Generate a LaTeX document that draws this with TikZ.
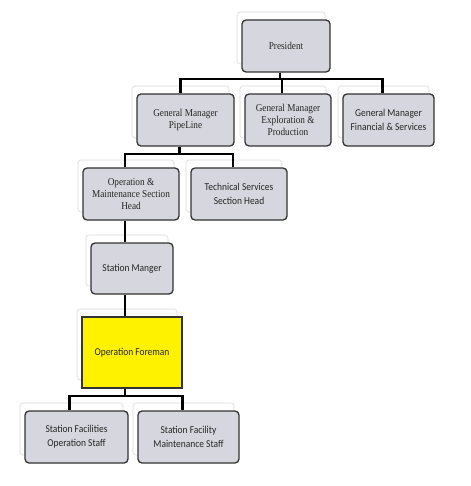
\documentclass[tikz,border=0pt]{standalone}
\usepackage{fontspec}
\setmainfont{Liberation Serif}
\newfontfamily\serc[FakeStretch=0.88]{Liberation Serif}
\newfontfamily\carl[FakeStretch=0.9]{Carlito}
\begin{document}
\begin{tikzpicture}[x=1pt,y=-1pt,
  box/.style={draw=black!80, line width=1.3pt, rounded corners=4pt, fill={rgb,255:red,214;green,214;blue,222}, align=center, inner sep=1pt, minimum height=52pt, text=black!85},
  ghost/.style={draw=black!15, line width=0.6pt, fill=white, rounded corners=3pt},
  yel/.style={draw=black!80, line width=1.3pt, fill=yellow, align=center, inner sep=1pt, text=black!85},
  conn/.style={draw=black, line width=2.2pt},
  sf/.style={font=\carl\fontsize{10.5}{14}\selectfont},
  rm/.style={font=\serc\fontsize{10.5}{12}\selectfont}]
\useasboundingbox (0,0) rectangle (470,486);
% ghosts
\foreach \cx/\cy/\w/\h in {286/46/88/52, 185.5/120/97/52, 288/120/86/52, 388.5/120/91/52, 131/194/96/52, 239/194/96/52, 132/268.5/82/51, 132/352.5/100/71, 76.5/437/103/52, 188.5/437/101/52}
  \path[ghost] (\cx-\w/2-5,\cy-\h/2-8) rectangle (\cx+\w/2-5,\cy+\h/2-8);
% nodes
\node[box,rm,minimum width=88pt] (pres) at (286,46) {President};
\node[box,rm,minimum width=97pt] (gmp) at (185.5,120) {General Manager\\PipeLine};
\node[box,rm,minimum width=86pt] (gme) at (288,120) {General Manager\\Exploration \&\\Production};
\node[box,sf,minimum width=91pt] (gmf) at (388.5,120) {General Manager\\Financial \& Services};
\node[box,rm,minimum width=96pt] (om) at (131,194) {Operation \&\\Maintenance Section\\Head};
\node[box,sf,minimum width=96pt] (ts) at (239,194) {Technical Services\\Section Head};
\node[box,sf,minimum width=82pt,minimum height=51pt] (sm) at (132,268.5) {Station Manger};
\node[yel,sf,minimum width=100pt,minimum height=71pt] (of) at (132,352.5) {Operation Foreman};
\node[box,sf,minimum width=103pt] (sfo) at (76.5,437) {Station Facilities\\Operation Staff};
\node[box,sf,minimum width=101pt] (sfm) at (188.5,437) {Station Facility\\Maintenance Staff};
% connectors
\draw[conn] ([xshift=-6pt]pres.south) -- ++(0,6) -| ([xshift=-5pt]gmp.north);
\draw[conn] ([xshift=-6pt]pres.south) -- ++(0,6) -| ([xshift=-6pt]gme.north);
\draw[conn] ([xshift=-6pt]pres.south) -- ++(0,6) -| ([xshift=-6pt]gmf.north);
\draw[conn] ([xshift=-6pt]gmp.south) -- ++(0,7) -| ([xshift=-6pt]om.north);
\draw[conn] ([xshift=-6pt]gmp.south) -- ++(0,7) -| ([xshift=-6pt]ts.north);
\draw[conn] ([xshift=-6pt]om.south) -- ([xshift=-6pt]om.south |- sm.north);
\draw[conn] ([xshift=-7pt]sm.south) -- ([xshift=-7pt]sm.south |- of.north);
\draw[conn] ([xshift=-7pt]of.south) -- ++(0,7) -| ([xshift=-7pt]sfo.north);
\draw[conn] ([xshift=-7pt]of.south) -- ++(0,7) -| ([xshift=-6pt]sfm.north);
\end{tikzpicture}
\end{document}
